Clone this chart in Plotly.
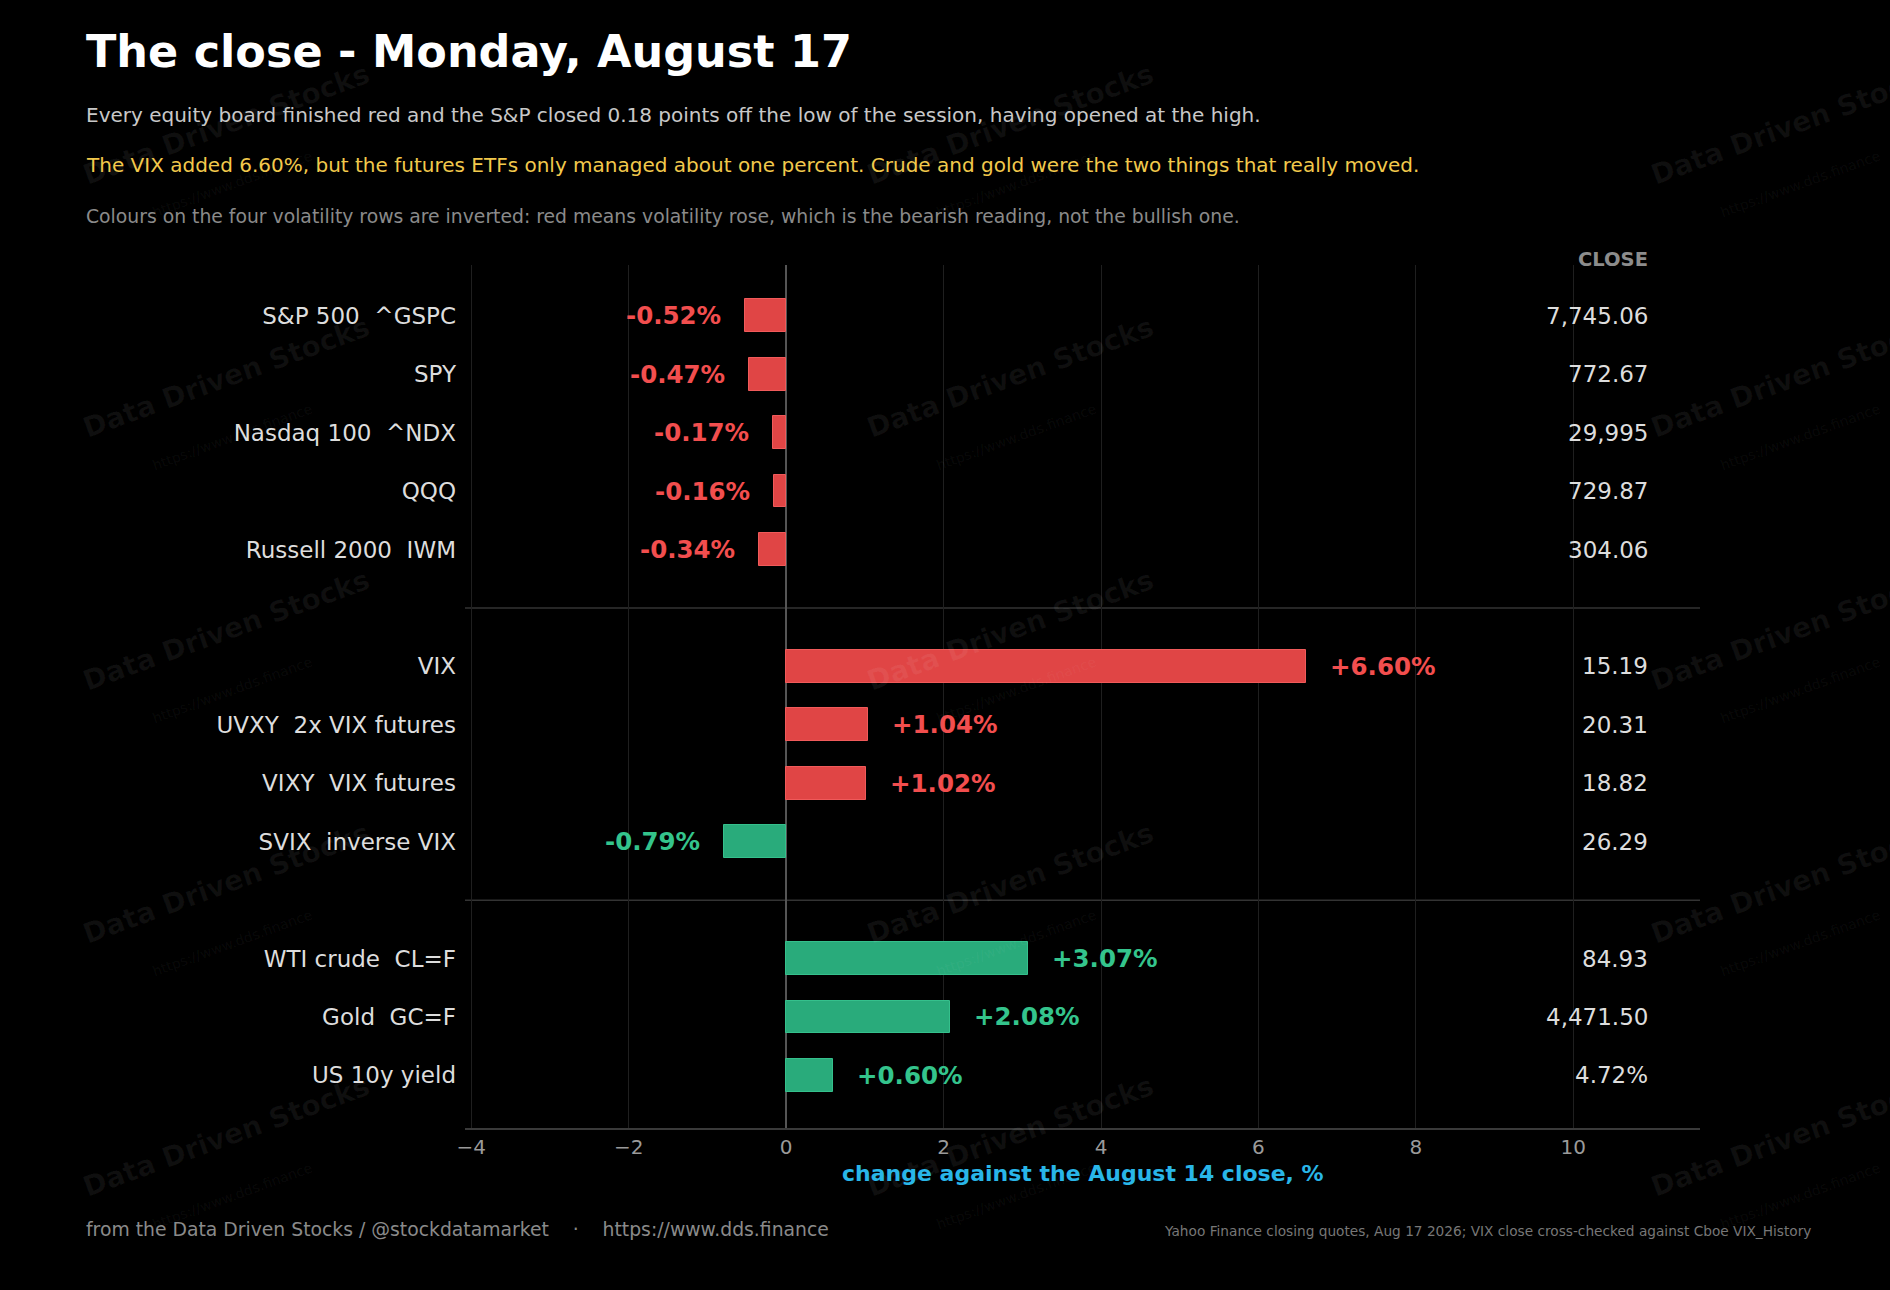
import plotly.graph_objects as go

# ---------------- data ----------------
labels = ["S&P 500  ^GSPC", "SPY", "Nasdaq 100  ^NDX", "QQQ", "Russell 2000  IWM",
          "VIX", "UVXY  2x VIX futures", "VIXY  VIX futures", "SVIX  inverse VIX",
          "WTI crude  CL=F", "Gold  GC=F", "US 10y yield"]
changes = [-0.52, -0.47, -0.17, -0.16, -0.34,
           6.60, 1.04, 1.02, -0.79,
           3.07, 2.08, 0.60]
closes = ["7,745.06", "772.67", "29,995", "729.87", "304.06",
          "15.19", "20.31", "18.82", "26.29",
          "84.93", "4,471.50", "4.72%"]
group_sizes = [5, 4, 3]
inverted = [False] * 5 + [True] * 4 + [False] * 3
x_ticks = [-4, -2, 0, 2, 4, 6, 8, 10]

title = "The close - Monday, August 17"
sub1 = "Every equity board finished red and the S&P closed 0.18 points off the low of the session, having opened at the high."
sub2 = "The VIX added 6.60%, but the futures ETFs only managed about one percent. Crude and gold were the two things that really moved."
sub3 = "Colours on the four volatility rows are inverted: red means volatility rose, which is the bearish reading, not the bullish one."
x_title = "change against the August 14 close, %"
footer_left = "from the Data Driven Stocks / @stockdatamarket \u00a0 \u00a0\u00b7\u00a0 \u00a0 https://www.dds.finance"
footer_right = "Yahoo Finance closing quotes, Aug 17 2026; VIX close cross-checked against Cboe VIX_History"

# ---------------- layout constants ----------------
W, H = 1890, 1290
L, R, T, B = 465, 190, 265, 162
PW, PH = W - L - R, H - T - B
FONT = "DejaVu Sans"
RED_BAR, RED_TXT = "#e04545", "#f24e4e"
GRN_BAR, GRN_TXT = "#29ab7b", "#34c48c"


def px(x):
    return (x - L) / PW


def py(y):
    return (H - B - y) / PH


# row positions with a blank slot between groups
pos, seps, i = [], [], 0
for gi, n in enumerate(group_sizes):
    for _ in range(n):
        pos.append(i)
        i += 1
    if gi < len(group_sizes) - 1:
        seps.append(i)
        i += 1

bearish = [(c > 0) if inv else (c < 0) for c, inv in zip(changes, inverted)]
bar_cols = [RED_BAR if b else GRN_BAR for b in bearish]
txt_cols = [RED_TXT if b else GRN_TXT for b in bearish]
line_cols = ["#f05a5a" if b else "#35c08c" for b in bearish]

fig = go.Figure()
fig.add_trace(go.Bar(
    x=changes, y=pos, orientation="h", width=0.56,
    marker=dict(color=bar_cols, line=dict(color=line_cols, width=1)),
    hoverinfo="skip", showlegend=False,
))

ann = []
# watermarks (first so they sit underneath the other annotations)
for wx in [226, 1010, 1794]:
    for wy in [124, 377, 630, 883, 1136]:
        ann.append(dict(x=px(wx), y=py(wy), xref="paper", yref="paper",
                        text="<b>Data Driven Stocks</b>", textangle=-20,
                        showarrow=False, xanchor="center", yanchor="middle",
                        font=dict(family=FONT, size=28, color="rgba(255,255,255,0.06)")))
        ann.append(dict(x=px(wx + 6), y=py(wy + 60), xref="paper", yref="paper",
                        text="https://www.dds.finance", textangle=-20,
                        showarrow=False, xanchor="center", yanchor="middle",
                        font=dict(family=FONT, size=14, color="rgba(255,255,255,0.05)")))
# value labels
for c, p, col in zip(changes, pos, txt_cols):
    ann.append(dict(x=c, y=p, xref="x", yref="y", text=f"<b>{c:+.2f}%</b>",
                    xanchor="left" if c > 0 else "right", yanchor="middle",
                    xshift=22 if c > 0 else -22, showarrow=False,
                    font=dict(family=FONT, size=24.5, color=col)))
# close column
ann.append(dict(x=px(1650), y=py(260), xref="paper", yref="paper", text="<b>CLOSE</b>",
                xanchor="right", yanchor="middle", showarrow=False,
                font=dict(family=FONT, size=19.5, color="#8c8c8c")))
for cl, p in zip(closes, pos):
    ann.append(dict(x=px(1650), y=p, xref="paper", yref="y", text=cl,
                    xanchor="right", yanchor="middle", showarrow=False,
                    font=dict(family=FONT, size=23, color="#dddddd")))
# titles
ann.append(dict(x=px(84), y=py(52), xref="paper", yref="paper", text=f"<b>{title}</b>",
                xanchor="left", yanchor="middle", showarrow=False,
                font=dict(family=FONT, size=44.5, color="#ffffff")))
for txt, yy, col, fs in [(sub1, 115, "#c8c8c8", 20), (sub2, 165, "#f2c94c", 20),
                         (sub3, 216, "#8a8a8a", 18.8)]:
    ann.append(dict(x=px(84), y=py(yy), xref="paper", yref="paper", text=txt,
                    xanchor="left", yanchor="middle", showarrow=False,
                    font=dict(family=FONT, size=fs, color=col)))
# axis title
ann.append(dict(x=0.5, y=py(1173), xref="paper", yref="paper", text=f"<b>{x_title}</b>",
                xanchor="center", yanchor="middle", showarrow=False,
                font=dict(family=FONT, size=22, color="#29b6e8")))
# footers
ann.append(dict(x=px(84), y=py(1229), xref="paper", yref="paper", text=footer_left,
                xanchor="left", yanchor="middle", showarrow=False,
                font=dict(family=FONT, size=18.8, color="#8a8a8a")))
ann.append(dict(x=px(1813), y=py(1231), xref="paper", yref="paper", text=footer_right,
                xanchor="right", yanchor="middle", showarrow=False,
                font=dict(family=FONT, size=13.7, color="#777777")))

shapes = [dict(type="line", xref="paper", yref="y", x0=0, x1=1, y0=s, y1=s,
               line=dict(color="#333333", width=1.5), layer="below") for s in seps]

fig.update_layout(
    width=W, height=H,
    margin=dict(l=L, r=R, t=T, b=B, pad=0),
    paper_bgcolor="#000000", plot_bgcolor="#000000",
    annotations=ann, shapes=shapes, showlegend=False, bargap=0,
    xaxis=dict(range=[-4.08, 11.61], tickvals=x_ticks, showgrid=True,
               gridcolor="#1f1f1f", gridwidth=1,
               zeroline=True, zerolinecolor="#555555", zerolinewidth=2,
               showline=True, linecolor="#3a3a3a", linewidth=2,
               ticks="", tickfont=dict(family=FONT, size=20, color="#9a9a9a"),
               fixedrange=True),
    yaxis=dict(range=[pos[-1] + 0.9, -0.87], tickvals=pos,
               ticktext=[s.replace("  ", " \u00a0") for s in labels],
               showgrid=False, zeroline=False, showline=False, ticks="",
               ticklabelstandoff=8,
               tickfont=dict(family=FONT, size=23, color="#dddddd"),
               fixedrange=True),
)

fig.write_html(
    "out.html",
    config={"displayModeBar": False},
    post_script="document.body.style.margin='0';document.body.style.background='#000';"
                "document.documentElement.style.background='#000';document.body.style.overflow='hidden';",
)
